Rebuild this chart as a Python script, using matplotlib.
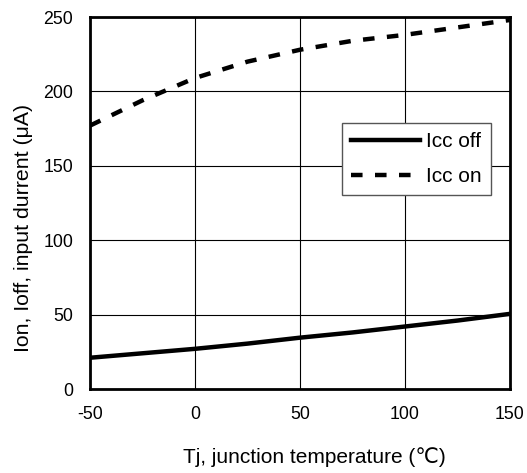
import matplotlib
matplotlib.use("Agg")
import matplotlib.pyplot as plt

temps = [-50, -25, 0, 25, 50, 75, 100, 125, 150]
icc_on = [177, 194, 209, 220, 228, 234, 238, 243, 248]
icc_off = [21, 24, 27, 30.5, 34.5, 38, 42, 46, 50.5]

plt.rcParams['font.family'] = ['Liberation Sans', 'DejaVu Sans']
plt.rcParams['axes.unicode_minus'] = False

fig = plt.figure(figsize=(5.27, 4.73), dpi=100)
ax = fig.add_axes([90 / 527, 1 - 389 / 473, 420 / 527, 372 / 473])

ax.plot(temps, icc_off, 'k-', lw=3.2, label='Icc off')
ax.plot(temps, icc_on, 'k--', lw=3.2, dashes=(2.6, 2.8), label='Icc on')

ax.set_xlim(-50, 150)
ax.set_ylim(0, 250)
ax.set_xticks([-50, 0, 50, 100, 150])
ax.set_yticks([0, 50, 100, 150, 200, 250])
ax.grid(True, color='black', lw=0.8)
for s in ax.spines.values():
    s.set_linewidth(2)
ax.tick_params(length=0, pad=12, labelsize=12.8)

ax.set_xlabel('Tj, junction temperature (\u2103)', fontsize=15)
ax.set_ylabel('Ion, Ioff, input durrent (\u03bcA)', fontsize=15.3)
ax.xaxis.set_label_coords(0.535, -0.155)
ax.yaxis.set_label_coords(-0.135, 0.433)

leg = ax.legend(loc='upper left', bbox_to_anchor=(0.6, 0.715), fontsize=15,
                handlelength=3.3, fancybox=False, framealpha=1,
                edgecolor='#555555', borderpad=0.45, labelspacing=0.75,
                handletextpad=0.3, borderaxespad=0)
leg.get_frame().set_linewidth(1)

fig.savefig('out.png', dpi=100)
